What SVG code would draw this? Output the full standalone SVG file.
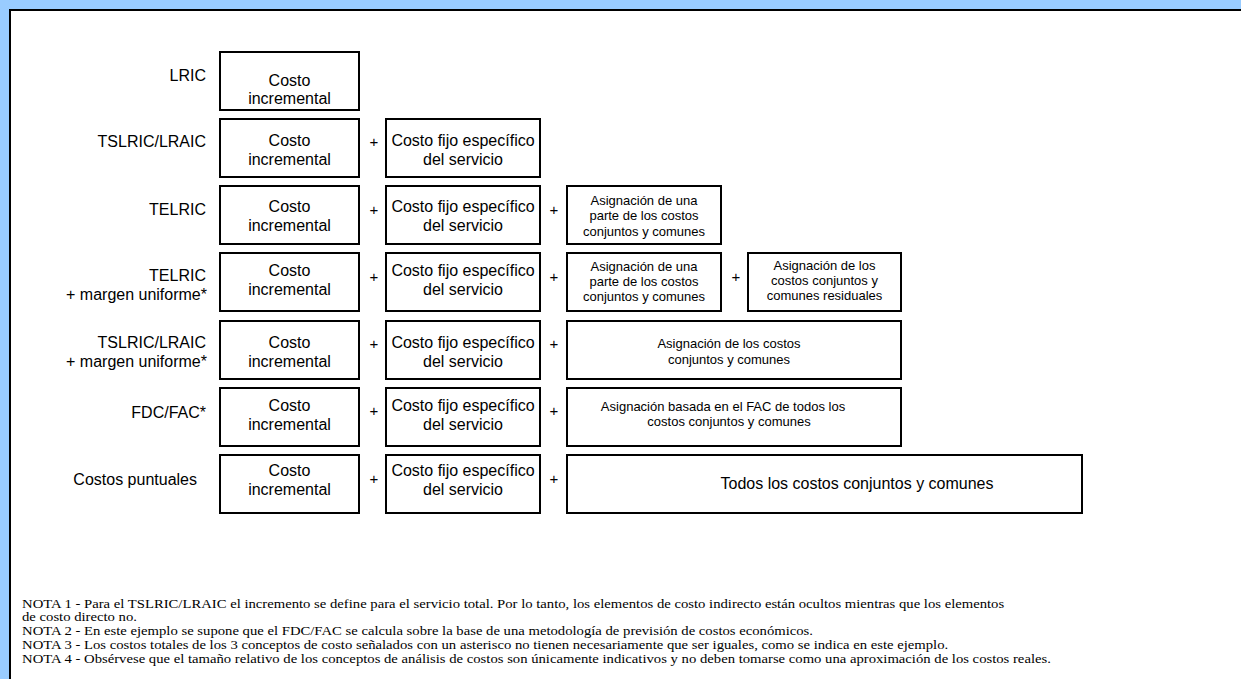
<svg xmlns="http://www.w3.org/2000/svg" width="1241" height="679" viewBox="0 0 1241 679">
<style>
.box{fill:#fff;stroke:#000;stroke-width:2}
.t{font-family:"Liberation Sans",Arial,sans-serif;font-size:16px;fill:#000;text-anchor:middle}
.s{font-family:"Liberation Sans",Arial,sans-serif;font-size:13px;fill:#000;text-anchor:middle}
.lab{font-family:"Liberation Sans",Arial,sans-serif;font-size:16px;fill:#000;text-anchor:end}
.plus{font-family:"Liberation Sans",Arial,sans-serif;font-size:15px;fill:#000;text-anchor:middle}
.note{font-family:"Liberation Serif","Times New Roman",serif;font-size:13px;fill:#000}
</style>
<rect x="0" y="0" width="1241" height="679" fill="#99CCFF"/>
<rect x="10" y="10" width="1300" height="800" fill="#fff" stroke="#000" stroke-width="2"/>

<g id="labels">
<text class="lab" x="206" y="80.5">LRIC</text>
<text class="lab" x="206" y="147.4">TSLRIC/LRAIC</text>
<text class="lab" x="206" y="214.7">TELRIC</text>
<text class="lab" x="206" y="281.4">TELRIC</text>
<text class="lab" x="207" y="300">+ margen uniforme*</text>
<text class="lab" x="206" y="348.4">TSLRIC/LRAIC</text>
<text class="lab" x="207" y="366.5">+ margen uniforme*</text>
<text class="lab" x="206" y="418">FDC/FAC*</text>
<text class="lab" x="197" y="484.5">Costos puntuales</text>
</g>

<g id="row1">
<g id="r1c1"><rect class="box" x="220" y="52" width="139" height="58"/><text class="t" x="289.5" y="85.5">Costo</text><text class="t" x="289.5" y="103.8">incremental</text></g>
</g>

<g id="row2">
<g id="r2c1"><rect class="box" x="220" y="119" width="139" height="58"/><text class="t" x="289.5" y="146">Costo</text><text class="t" x="289.5" y="165">incremental</text></g>
<g id="r2c2"><rect class="box" x="386" y="119" width="154" height="58"/><text class="t" x="463" y="146">Costo fijo específico</text><text class="t" x="463" y="165">del servicio</text></g>
</g>

<g id="row3">
<g id="r3c1"><rect class="box" x="220" y="186" width="139" height="58"/><text class="t" x="289.5" y="212">Costo</text><text class="t" x="289.5" y="231">incremental</text></g>
<g id="r3c2"><rect class="box" x="386" y="186" width="154" height="58"/><text class="t" x="463" y="212">Costo fijo específico</text><text class="t" x="463" y="231">del servicio</text></g>
<g id="r3c3"><rect class="box" x="567" y="186" width="154" height="58"/><text class="s" x="644" y="204.5">Asignación de una</text><text class="s" x="644" y="220">parte de los costos</text><text class="s" x="644" y="235.5">conjuntos y comunes</text></g>
</g>

<g id="row4">
<g id="r4c1"><rect class="box" x="220" y="253" width="139" height="58"/><text class="t" x="289.5" y="276">Costo</text><text class="t" x="289.5" y="295">incremental</text></g>
<g id="r4c2"><rect class="box" x="386" y="253" width="154" height="58"/><text class="t" x="463" y="276">Costo fijo específico</text><text class="t" x="463" y="295">del servicio</text></g>
<g id="r4c3"><rect class="box" x="567" y="253" width="154" height="58"/><text class="s" x="644" y="271">Asignación de una</text><text class="s" x="644" y="286">parte de los costos</text><text class="s" x="644" y="301">conjuntos y comunes</text></g>
<g id="r4c4"><rect class="box" x="748" y="253" width="153" height="58"/><text class="s" x="824.5" y="270">Asignación de los</text><text class="s" x="824.5" y="285">costos conjuntos y</text><text class="s" x="824.5" y="300">comunes residuales</text></g>
</g>

<g id="row5">
<g id="r5c1"><rect class="box" x="220" y="321" width="139" height="58"/><text class="t" x="289.5" y="348">Costo</text><text class="t" x="289.5" y="367">incremental</text></g>
<g id="r5c2"><rect class="box" x="386" y="321" width="154" height="58"/><text class="t" x="463" y="348">Costo fijo específico</text><text class="t" x="463" y="367">del servicio</text></g>
<g id="r5c3"><rect class="box" x="567" y="321" width="334" height="58"/><text class="s" x="729" y="348">Asignación de los costos</text><text class="s" x="729" y="364">conjuntos y comunes</text></g>
</g>

<g id="row6">
<g id="r6c1"><rect class="box" x="220" y="388" width="139" height="58"/><text class="t" x="289.5" y="411">Costo</text><text class="t" x="289.5" y="430">incremental</text></g>
<g id="r6c2"><rect class="box" x="386" y="388" width="154" height="58"/><text class="t" x="463" y="411">Costo fijo específico</text><text class="t" x="463" y="430">del servicio</text></g>
<g id="r6c3"><rect class="box" x="567" y="388" width="334" height="58"/><text class="s" x="723" y="410.5">Asignación basada en el FAC de todos los</text><text class="s" x="729" y="426">costos conjuntos y comunes</text></g>
</g>

<g id="row7">
<g id="r7c1"><rect class="box" x="220" y="455" width="139" height="58"/><text class="t" x="289.5" y="476">Costo</text><text class="t" x="289.5" y="495">incremental</text></g>
<g id="r7c2"><rect class="box" x="386" y="455" width="154" height="58"/><text class="t" x="463" y="476">Costo fijo específico</text><text class="t" x="463" y="495">del servicio</text></g>
<g id="r7c3"><rect class="box" x="567" y="455" width="515" height="58"/><text class="t" x="857" y="488.5">Todos los costos conjuntos y comunes</text></g>
</g>

<g id="connectors">
<text class="plus" x="374" y="147">+</text>
<text class="plus" x="374" y="214.5">+</text>
<text class="plus" x="554" y="214.5">+</text>
<text class="plus" x="374" y="281.5">+</text>
<text class="plus" x="554" y="281.5">+</text>
<text class="plus" x="736" y="281.5">+</text>
<text class="plus" x="374" y="348.5">+</text>
<text class="plus" x="554" y="348.5">+</text>
<text class="plus" x="374" y="416">+</text>
<text class="plus" x="554" y="416">+</text>
<text class="plus" x="374" y="483.5">+</text>
<text class="plus" x="554" y="483.5">+</text>
</g>

<g id="notes" transform="scale(1.13 1)">
<text class="note" x="19.5" y="608">NOTA 1 - Para el TSLRIC/LRAIC el incremento se define para el servicio total. Por lo tanto, los elementos de costo indirecto están ocultos mientras que los elementos</text>
<text class="note" x="19.5" y="621">de costo directo no.</text>
<text class="note" x="19.5" y="635">NOTA 2 - En este ejemplo se supone que el FDC/FAC se calcula sobre la base de una metodología de previsión de costos económicos.</text>
<text class="note" x="19.5" y="649">NOTA 3 - Los costos totales de los 3 conceptos de costo señalados con un asterisco no tienen necesariamente que ser iguales, como se indica en este ejemplo.</text>
<text class="note" x="19.5" y="663">NOTA 4 - Obsérvese que el tamaño relativo de los conceptos de análisis de costos son únicamente indicativos y no deben tomarse como una aproximación de los costos reales.</text>
</g>
</svg>
